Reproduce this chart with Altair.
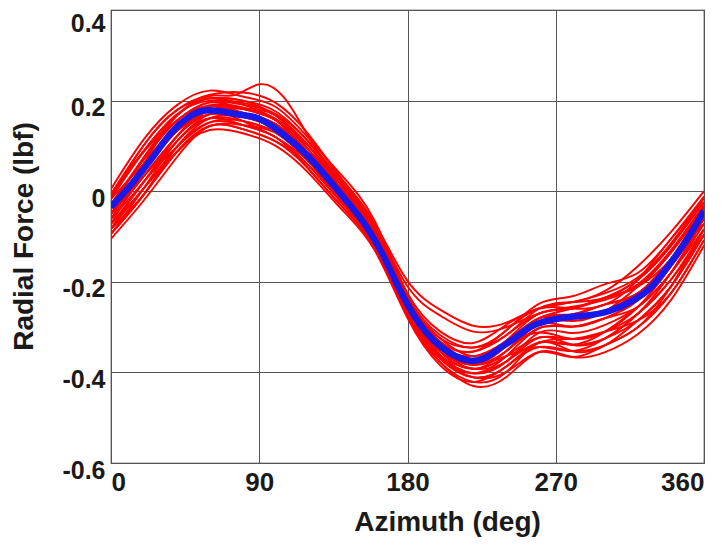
import altair as alt
import pandas as pd

# ---------------- data ----------------
AZ = [0, 20, 40, 60, 80, 100, 120, 140, 160, 180, 200, 220, 240, 260, 280, 300, 320, 340, 360]

RUNS = {
    "r01": [0.005, 0.115, 0.19, 0.222, 0.209, 0.186, 0.117, 0.035, -0.065, -0.225, -0.31, -0.335, -0.295, -0.259, -0.245, -0.22, -0.165, -0.09, 0.0],
    "r02": [-0.006, 0.102, 0.179, 0.213, 0.218, 0.195, 0.125, 0.028, -0.072, -0.231, -0.318, -0.345, -0.307, -0.248, -0.232, -0.205, -0.18, -0.105, -0.012],
    "r04": [-0.028, 0.075, 0.167, 0.205, 0.2, 0.176, 0.108, 0.02, -0.078, -0.236, -0.325, -0.364, -0.33, -0.28, -0.259, -0.235, -0.21, -0.135, -0.036],
    "r05": [-0.039, 0.075, 0.156, 0.196, 0.191, 0.167, 0.091, 0.005, -0.091, -0.247, -0.34, -0.373, -0.341, -0.28, -0.272, -0.25, -0.225, -0.15, -0.048],
    "r06": [-0.05, 0.061, 0.144, 0.187, 0.182, 0.157, 0.1, 0.013, -0.085, -0.247, -0.34, -0.383, -0.353, -0.291, -0.286, -0.265, -0.225, -0.165, -0.06],
    "r07": [-0.028, 0.048, 0.133, 0.179, 0.173, 0.148, 0.083, -0.003, -0.098, -0.253, -0.348, -0.383, -0.353, -0.302, -0.299, -0.28, -0.24, -0.15, -0.036],
    "r08": [-0.061, 0.034, 0.121, 0.17, 0.164, 0.138, 0.074, -0.01, -0.104, -0.258, -0.348, -0.373, -0.33, -0.27, -0.259, -0.235, -0.21, -0.15, -0.06],
    "r09": [-0.072, 0.048, 0.144, 0.187, 0.173, 0.138, 0.074, -0.018, -0.111, -0.264, -0.363, -0.402, -0.376, -0.312, -0.313, -0.295, -0.255, -0.18, -0.072],
    "r10": [-0.061, 0.021, 0.11, 0.161, 0.155, 0.129, 0.066, -0.01, -0.104, -0.253, -0.348, -0.392, -0.364, -0.323, -0.326, -0.31, -0.27, -0.195, -0.084],
    "r11": [-0.083, 0.021, 0.098, 0.152, 0.155, 0.129, 0.066, -0.018, -0.111, -0.269, -0.37, -0.402, -0.364, -0.302, -0.299, -0.28, -0.255, -0.18, -0.084],
    "r12": [-0.072, 0.007, 0.098, 0.152, 0.146, 0.119, 0.057, -0.025, -0.117, -0.269, -0.37, -0.411, -0.387, -0.334, -0.339, -0.325, -0.285, -0.21, -0.096],
    "r13": [-0.094, 0.007, 0.11, 0.161, 0.146, 0.119, 0.049, -0.033, -0.124, -0.269, -0.363, -0.392, -0.376, -0.323, -0.339, -0.325, -0.27, -0.195, -0.096],
    "r14": [-0.083, -0.007, 0.087, 0.144, 0.137, 0.11, 0.057, -0.025, -0.117, -0.275, -0.378, -0.421, -0.399, -0.334, -0.353, -0.34, -0.285, -0.21, -0.096],
    "r15": [-0.105, -0.02, 0.075, 0.144, 0.137, 0.11, 0.049, -0.033, -0.124, -0.275, -0.378, -0.43, -0.41, -0.355, -0.366, -0.355, -0.315, -0.24, -0.12],
    "r16": [-0.094, -0.007, 0.087, 0.135, 0.128, 0.1, 0.04, -0.04, -0.13, -0.28, -0.385, -0.421, -0.387, -0.344, -0.353, -0.34, -0.30, -0.225, -0.108],
    "r17": [-0.05, 0.034, 0.121, 0.179, 0.182, 0.157, 0.083, 0.005, -0.091, -0.242, -0.333, -0.373, -0.341, -0.312, -0.326, -0.31, -0.255, -0.165, -0.048],
    "r18": [-0.017, 0.061, 0.133, 0.17, 0.164, 0.148, 0.083, 0.005, -0.098, -0.258, -0.355, -0.383, -0.364, -0.344, -0.353, -0.325, -0.27, -0.18, -0.06],
    "r19": [-0.01, 0.09, 0.17, 0.2, 0.195, 0.17, 0.11, 0.025, -0.07, -0.198, -0.262, -0.297, -0.29, -0.258, -0.245, -0.225, -0.19, -0.115, -0.015],
    "r20": [-0.03, 0.07, 0.155, 0.19, 0.185, 0.16, 0.1, 0.015, -0.075, -0.21, -0.275, -0.31, -0.30, -0.27, -0.255, -0.24, -0.205, -0.13, -0.03],
    "r21": [-0.039, 0.048, 0.133, 0.179, 0.182, 0.167, 0.091, -0.003, -0.098, -0.247, -0.34, -0.364, -0.33, -0.291, -0.299, -0.28, -0.24, -0.165, -0.048],
    "r22": [-0.072, 0.021, 0.121, 0.179, 0.173, 0.148, 0.074, -0.01, -0.098, -0.253, -0.355, -0.392, -0.353, -0.291, -0.272, -0.25, -0.225, -0.15, -0.072],
    "r23": [-0.006, 0.088, 0.156, 0.196, 0.182, 0.157, 0.091, 0.013, -0.078, -0.236, -0.325, -0.345, -0.318, -0.259, -0.245, -0.235, -0.195, -0.12, -0.012],
    "r24": [-0.083, 0.007, 0.087, 0.144, 0.146, 0.129, 0.066, -0.025, -0.117, -0.264, -0.37, -0.411, -0.399, -0.355, -0.366, -0.34, -0.30, -0.21, -0.084],
    "r25": [-0.061, 0.061, 0.167, 0.205, 0.191, 0.157, 0.083, 0.005, -0.091, -0.253, -0.348, -0.383, -0.341, -0.28, -0.286, -0.265, -0.21, -0.135, -0.036],
    "r26": [-0.094, -0.007, 0.098, 0.161, 0.164, 0.138, 0.074, -0.018, -0.111, -0.264, -0.363, -0.411, -0.387, -0.334, -0.326, -0.31, -0.285, -0.225, -0.108],
    "r27": [-0.017, 0.102, 0.179, 0.205, 0.2, 0.167, 0.1, 0.005, -0.091, -0.242, -0.333, -0.354, -0.307, -0.259, -0.259, -0.25, -0.195, -0.105, -0.024],
    "r28": [-0.05, 0.034, 0.11, 0.17, 0.155, 0.119, 0.066, -0.01, -0.104, -0.258, -0.363, -0.402, -0.376, -0.334, -0.339, -0.31, -0.255, -0.18, -0.06],
}

# one run with a local hump near 90 deg (sampled more finely)
HUMP_AZ = [0, 20, 40, 60, 75, 90, 105, 120, 140, 160, 180, 200, 220, 240, 260, 280, 300, 320, 340, 360]
HUMP = [-0.017, 0.088, 0.167, 0.21, 0.212, 0.236, 0.207, 0.12, 0.013, -0.085, -0.242, -0.333, -0.354, -0.318, -0.27, -0.259, -0.235, -0.195, -0.12, -0.024]

# mean curve (blue)
MEAN_AZ = [0, 10, 17, 27, 37, 47, 57, 69, 80, 90, 104, 118, 130, 145, 155, 165, 175, 186, 196, 206, 218, 228, 236, 246, 256, 270, 286, 303, 323, 333, 343, 353, 360]
MEAN = [-0.035, 0.005, 0.036, 0.083, 0.131, 0.163, 0.178, 0.175, 0.168, 0.16, 0.127, 0.083, 0.035, -0.03, -0.078, -0.14, -0.215, -0.286, -0.33, -0.358, -0.374, -0.366, -0.347, -0.322, -0.297, -0.282, -0.275, -0.264, -0.227, -0.19, -0.142, -0.087, -0.043]

X_TICKS = [0, 90, 180, 270, 360]
Y_TICKS = [-0.6, -0.4, -0.2, 0, 0.2, 0.4]

# ---------------- tables ----------------
rows = []
for name, vals in RUNS.items():
    for a, v in zip(AZ, vals):
        rows.append({"run": name, "az": a, "force": v})
for a, v in zip(HUMP_AZ, HUMP):
    rows.append({"run": "r03", "az": a, "force": v})
runs_df = pd.DataFrame(rows)
mean_df = pd.DataFrame({"az": MEAN_AZ, "force": MEAN})

FONT = "Liberation Sans"

x_enc = alt.X(
    "az:Q",
    scale=alt.Scale(domain=[0, 360], nice=False),
    axis=alt.Axis(
        values=X_TICKS,
        title="Azimuth (deg)",
        labelFlush=True,
        labelPadding=6,
        titleX=336,
        titleY=59,
        titleAlign="center",
        titleBaseline="middle",
    ),
)
y_enc = alt.Y(
    "force:Q",
    scale=alt.Scale(domain=[-0.6, 0.4], nice=False, zero=False),
    axis=alt.Axis(
        values=Y_TICKS,
        title="Radial Force (lbf)",
        labelExpr="'' + datum.value",
        labelPadding=6,
        labelOffset={"condition": {"test": "datum.value > 0.3", "value": 13}, "value": 7},
        labelFontSize=25,
        titleX=-87,
        titleY=226,
        titleAngle=-90,
        titleAlign="center",
        titleBaseline="middle",
    ),
)

red = alt.Chart(runs_df).mark_line(
    color="#ff0000", strokeWidth=1.9, interpolate="natural", clip=True
).encode(x=x_enc, y=y_enc, detail="run:N")

blue = alt.Chart(mean_df).mark_line(
    color="#1818e8", strokeWidth=6.5, interpolate="natural", clip=True
).encode(x="az:Q", y="force:Q")

chart = (
    alt.layer(red, blue)
    .properties(
        width=593,
        height=453,
        autosize=alt.AutoSizeParams(type="none"),
        padding={"left": 103, "top": 2, "right": 13, "bottom": 75},
        background="white",
    )
    .configure_view(stroke="#2a2a2a", strokeWidth=1.2)
    .configure_axis(
        domain=False,
        ticks=False,
        grid=True,
        gridColor="#555555",
        gridWidth=1,
        gridOpacity=1,
        labelFont=FONT,
        labelFontWeight="bold",
        labelFontSize=26,
        labelColor="#1a1a1a",
        titleFont=FONT,
        titleFontWeight="bold",
        titleFontSize=28,
        titleColor="#1a1a1a",
    )
)

chart.save("out.html", embed_options={"renderer": "svg", "actions": False})
